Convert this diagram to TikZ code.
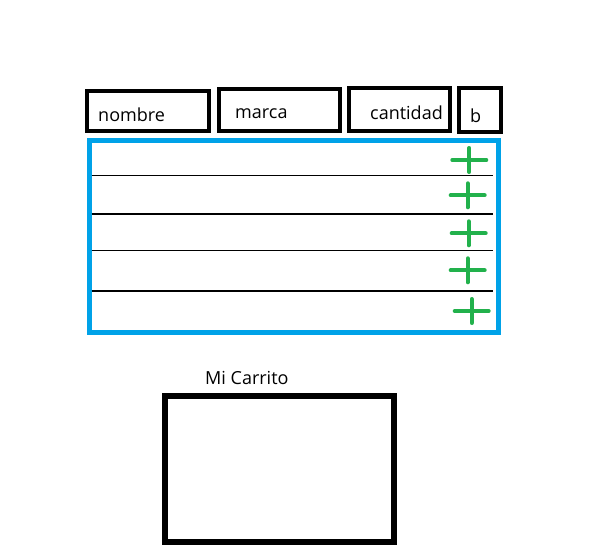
\documentclass[tikz,border=0pt]{standalone}
\usepackage{fontspec}
\setmainfont{Open Sans}
\definecolor{paintblue}{HTML}{00A2E8}
\definecolor{paintgreen}{HTML}{22B14C}
\tikzset{
  colbox/.style={draw,line width=4.5pt,inner sep=0pt},
  coltext/.style={anchor=base west,inner sep=0pt,font=\fontsize{18}{21}\selectfont},
  plussign/.style={paintgreen,line width=4pt,line cap=round}
}
\begin{document}
\begin{tikzpicture}[x=1pt,y=-1pt]
    \useasboundingbox (0,0) rectangle (594,546);

    \node[colbox,minimum width=122pt,minimum height=40pt] (nombre) at (148,111) {};
    \node[colbox,minimum width=121pt,minimum height=42pt] (marca) at (279.5,110) {};
    \node[colbox,minimum width=101pt,minimum height=43pt] (cantidad) at (399.5,109.5) {};
    \node[colbox,minimum width=42pt,minimum height=44pt] (b) at (480,110) {};

    \node[coltext] (nombretext) at (98,121.7) {nombre};
    \node[coltext] (marcatext) at (235,118) {marca};
    \node[coltext] (cantidadtext) at (370,119) {cantidad};
    \node[coltext] (btext) at (470,122.7) {b};

    \node[draw=paintblue,line width=5pt,inner sep=0pt,
          minimum width=409pt,minimum height=192pt] (lista) at (293.5,236.5) {};

    \foreach \y in {175.7,214,250.7,291}
        \draw[line width=1.3pt] (91.5,\y) -- (493.3,\y);

    \foreach \x/\y in {469.3/160,467.7/195.3,468.7/233.3,467.7/270.3,471.7/311}
        \draw[plussign] (\x-17,\y) -- (\x+17,\y)
                        (\x,\y-12) -- (\x,\y+12);

    \node[coltext] (carritotext) at (205,384) {Mi Carrito};
    \node[draw,line width=5.5pt,inner sep=0pt,
          minimum width=229pt,minimum height=146pt] (carrito) at (279.5,469) {};
\end{tikzpicture}
\end{document}
